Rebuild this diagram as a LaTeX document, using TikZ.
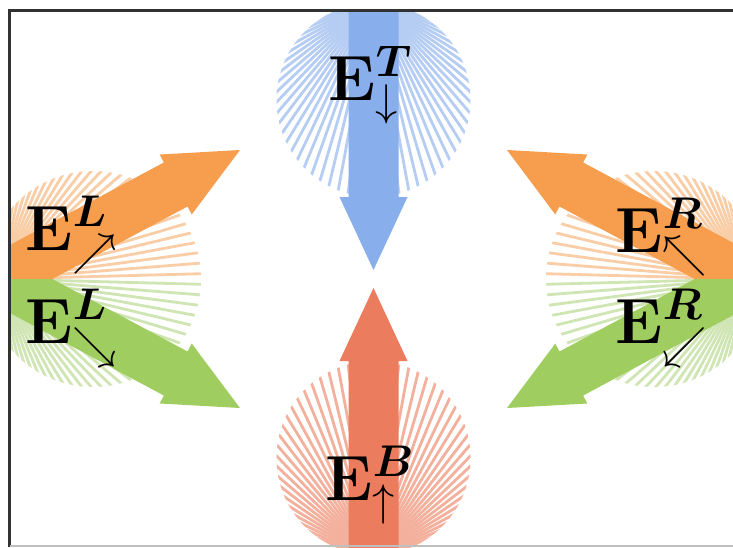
\documentclass[tikz,border=0pt]{standalone}
\usepackage{bm}
\definecolor{blueA}{RGB}{136,174,236}
\definecolor{blueR}{RGB}{182,205,243}
\definecolor{redA}{RGB}{236,124,94}
\definecolor{redR}{RGB}{243,177,157}
\definecolor{orangeA}{RGB}{246,157,78}
\definecolor{orangeR}{RGB}{249,205,166}
\definecolor{greenA}{RGB}{160,205,96}
\definecolor{greenR}{RGB}{208,229,180}
\definecolor{frameC}{RGB}{50,50,50}
\tikzset{
  ray/.style={line width=1.4pt},
  lab/.style={font=\LARGE, scale=1.85, transform shape, inner sep=0pt, anchor=base west},
}
\newcommand\fatarrow[3]{%
  \begin{scope}[shift={#1},rotate=#2]
    \fill[#3] (0,0) -- (-73,-34) -- (-73,-25) -- (-420,-25) -- (-420,25) -- (-73,25) -- (-73,34) -- cycle;
  \end{scope}}
\begin{document}
\begin{tikzpicture}[x=0.5pt,y=-0.5pt]
\useasboundingbox (0,0) rectangle (733,547);
\fill[white] (0,0) rectangle (733,547);
\begin{scope}
  \clip (9.5,10.5) rectangle (733,547);
  % top fan + arrow
  \begin{scope}
    \clip (373.5,100) circle [radius=97];
    \foreach \a in {-73.5,-70.5,...,73.6} \draw[ray,blueR] (373.5,0) -- ++({90+\a}:260);
  \end{scope}
  \fatarrow{(373.5,270)}{-90}{blueA}
  % bottom fan + arrow
  \begin{scope}
    \clip (373.5,458) circle [radius=97];
    \foreach \a in {-73.5,-70.5,...,73.6} \draw[ray,redR] (373.5,558) -- ++({-90+\a}:260);
  \end{scope}
  \fatarrow{(373.5,288)}{90}{redA}
  % left upper (orange)
  \begin{scope}
    \clip (0,0) rectangle (373.5,279);
    \begin{scope}
      \clip (93,279) circle [radius=108];
      \foreach \a in {1.5,4.5,...,88.6} \draw[ray,orangeR] (-1,279) -- ++(-\a:260);
    \end{scope}
    \fatarrow{(240,150)}{28.2}{orangeA}
  \end{scope}
  % left lower (green)
  \begin{scope}
    \clip (0,279) rectangle (373.5,547);
    \begin{scope}
      \clip (93,279) circle [radius=108];
      \foreach \a in {1.5,4.5,...,88.6} \draw[ray,greenR] (-1,279) -- ++(\a:260);
    \end{scope}
    \fatarrow{(240,408)}{-28.2}{greenA}
  \end{scope}
  % right upper (orange)
  \begin{scope}
    \clip (373.5,0) rectangle (760,279);
    \begin{scope}
      \clip (654,279) circle [radius=108];
      \foreach \a in {1.5,4.5,...,88.6} \draw[ray,orangeR] (748,279) -- ++({180+\a}:260);
    \end{scope}
    \fatarrow{(507,150)}{151.8}{orangeA}
  \end{scope}
  % right lower (green)
  \begin{scope}
    \clip (373.5,279) rectangle (760,547);
    \begin{scope}
      \clip (654,279) circle [radius=108];
      \foreach \a in {1.5,4.5,...,88.6} \draw[ray,greenR] (748,279) -- ++({180-\a}:260);
    \end{scope}
    \fatarrow{(507,408)}{-151.8}{greenA}
  \end{scope}
\end{scope}
% frame
\draw[frameC, line width=1.5pt] (9.5,547) -- (9.5,10.5) -- (733,10.5);
\draw[black!25, line width=0.75pt] (9.5,546) -- (733,546);
% labels
\node[lab] (lT) at (328,100) {$\mathbf{E}^{\bm{T}}_{\downarrow}$};
\node[lab] (lB) at (325,500) {$\mathbf{E}^{\bm{B}}_{\uparrow}$};
\node[lab] (lL1) at (25,250) {$\mathbf{E}^{\bm{L}}_{\nearrow}$};
\node[lab] (lL2) at (25,343) {$\mathbf{E}^{\bm{L}}_{\searrow}$};
\node[lab] (lR1) at (615,252) {$\mathbf{E}^{\bm{R}}_{\nwarrow}$};
\node[lab] (lR2) at (615,343) {$\mathbf{E}^{\bm{R}}_{\swarrow}$};
\end{tikzpicture}
\end{document}
